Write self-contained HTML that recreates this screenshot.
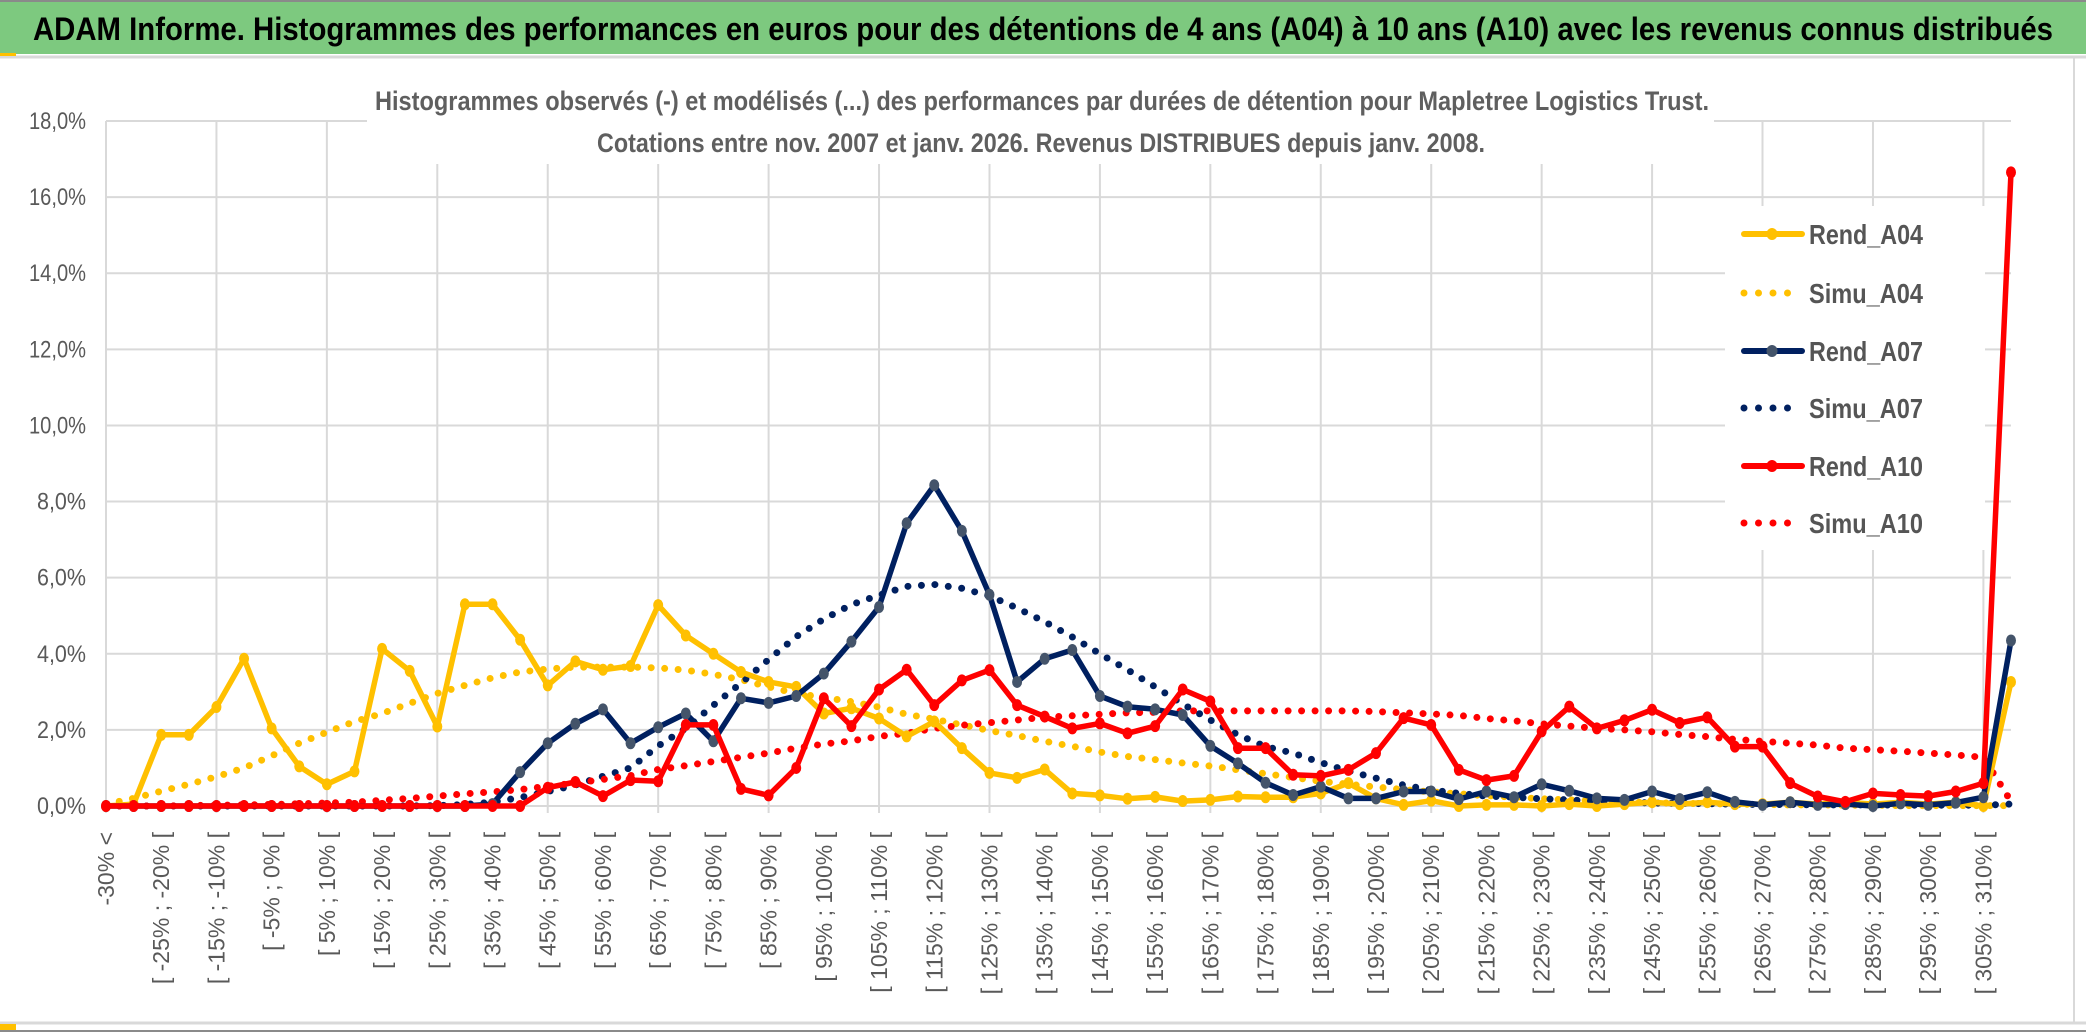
<!DOCTYPE html>
<html><head><meta charset="utf-8"><title>ADAM Informe - Mapletree Logistics Trust</title>
<style>
html,body{margin:0;padding:0;background:#fff;}
svg{display:block;font-family:"Liberation Sans",sans-serif;}
</style></head>
<body>
<svg id="chart" width="2086" height="1033" viewBox="0 0 2086 1033" xmlns="http://www.w3.org/2000/svg">
<rect x="0" y="0" width="2086" height="1033" fill="#fff"/>
<rect x="0" y="2" width="2086" height="52" fill="#7dc97f"/>
<line x1="0" y1="1" x2="2086" y2="1" stroke="#8a8a8a" stroke-width="2"/>
<line x1="0" y1="57" x2="2086" y2="57" stroke="#d9d9d9" stroke-width="3"/>
<rect x="0" y="53" width="16" height="3" fill="#ffc000"/>
<text x="33" y="40" font-size="32" font-weight="bold" fill="#000" textLength="2020" lengthAdjust="spacingAndGlyphs">ADAM Informe. Histogrammes des performances en euros pour des détentions de 4 ans (A04) à 10 ans (A10) avec les revenus connus distribués</text>
<line x1="0" y1="1023" x2="2086" y2="1023" stroke="#d9d9d9" stroke-width="3"/>
<line x1="0" y1="1031" x2="2086" y2="1031" stroke="#8a8a8a" stroke-width="2"/>
<rect x="0" y="1024" width="16" height="6" fill="#ffc000"/>
<line x1="2074" y1="58" x2="2074" y2="1022" stroke="#d9d9d9" stroke-width="2"/>
<g id="grid"></g>
<g id="ylabels"></g>
<g id="xlabels"></g>
<rect x="367" y="84" width="1347" height="80" fill="#fff"/>
<text x="375" y="110" font-size="27" font-weight="bold" fill="#5f5f5f" textLength="1334" lengthAdjust="spacingAndGlyphs">Histogrammes observés (-) et modélisés (...) des performances par durées de détention pour Mapletree Logistics Trust.</text>
<text x="597" y="152" font-size="27" font-weight="bold" fill="#5f5f5f" textLength="888" lengthAdjust="spacingAndGlyphs">Cotations entre nov. 2007 et janv. 2026. Revenus DISTRIBUES depuis janv. 2008.</text>
<g id="series"></g>
<g id="legend"></g>
</svg>
<script>
const categories = (function(){const c=['-30% <'];for(let a=-30;a<310;a+=5){c.push('[ '+a+'% ; '+(a+5)+'% [');}c.push('> 310%');return c;})();
const yTicks = [0,2,4,6,8,10,12,14,16,18];
const yTickLabels = ['0,0%','2,0%','4,0%','6,0%','8,0%','10,0%','12,0%','14,0%','16,0%','18,0%'];
const rendA04 = [0,0.05,1.87,1.87,2.6,3.87,2.04,1.04,0.57,0.91,4.13,3.55,2.09,5.3,5.3,4.37,3.17,3.8,3.58,3.68,5.28,4.48,4.0,3.52,3.26,3.13,2.43,2.57,2.3,1.83,2.22,1.52,0.87,0.74,0.96,0.33,0.28,0.19,0.24,0.13,0.16,0.25,0.23,0.23,0.33,0.6,0.2,0.03,0.14,0,0.03,0.03,0,0.05,0,0.05,0.1,0.05,0.1,0.05,0.05,0.1,0.05,0.1,0.05,0.1,0.05,0.1,0,3.26];
const simuA04 = [0.05,0.2,0.39,0.57,0.77,1.0,1.32,1.65,1.94,2.22,2.43,2.7,2.96,3.17,3.37,3.52,3.6,3.65,3.65,3.65,3.63,3.57,3.46,3.32,3.13,2.96,2.85,2.74,2.6,2.41,2.28,2.13,1.98,1.85,1.7,1.57,1.42,1.3,1.22,1.13,1.05,0.95,0.85,0.75,0.65,0.57,0.5,0.43,0.37,0.32,0.27,0.23,0.19,0.16,0.13,0.11,0.09,0.07,0.06,0.05,0.04,0.03,0.03,0.02,0.02,0.01,0.01,0.01,0.01,0.01];
const rendA07 = [0,0,0,0,0,0,0,0,0,0,0,0,0,0,0.05,0.89,1.65,2.16,2.54,1.65,2.07,2.43,1.7,2.83,2.71,2.89,3.48,4.32,5.23,7.43,8.43,7.23,5.55,3.26,3.87,4.1,2.89,2.61,2.54,2.39,1.58,1.12,0.61,0.29,0.51,0.2,0.2,0.38,0.38,0.18,0.38,0.23,0.57,0.4,0.2,0.16,0.38,0.18,0.36,0.11,0.03,0.1,0.03,0.05,0,0.07,0.03,0.09,0.23,4.35];
const simuA07 = [0,0,0,0,0,0,0,0,0,0,0,0,0.01,0.04,0.1,0.22,0.38,0.55,0.78,1.0,1.58,2.04,2.65,3.23,3.85,4.45,4.91,5.29,5.54,5.77,5.82,5.72,5.52,5.2,4.84,4.44,4.0,3.58,3.13,2.68,2.26,1.87,1.56,1.39,1.14,0.92,0.73,0.55,0.42,0.33,0.26,0.23,0.19,0.16,0.13,0.1,0.08,0.07,0.06,0.05,0.04,0.04,0.03,0.03,0.03,0.02,0.02,0.02,0.02,0.05];
const rendA10 = [0,0,0,0,0,0,0,0,0,0,0,0,0,0,0,0,0.48,0.63,0.26,0.68,0.65,2.13,2.13,0.45,0.28,1.0,2.83,2.1,3.06,3.58,2.65,3.3,3.57,2.65,2.35,2.04,2.17,1.91,2.1,3.06,2.75,1.52,1.52,0.82,0.79,0.95,1.39,2.31,2.13,0.95,0.68,0.79,1.96,2.61,2.04,2.25,2.53,2.18,2.33,1.56,1.56,0.6,0.25,0.11,0.33,0.29,0.26,0.38,0.6,16.65];
const simuA10 = [0,0,0,0.01,0.02,0.03,0.04,0.06,0.08,0.1,0.15,0.2,0.26,0.32,0.37,0.43,0.52,0.6,0.7,0.8,0.96,1.06,1.17,1.28,1.39,1.52,1.63,1.71,1.83,1.91,2.04,2.12,2.19,2.26,2.33,2.37,2.41,2.45,2.46,2.5,2.5,2.5,2.5,2.5,2.5,2.5,2.48,2.45,2.42,2.38,2.3,2.24,2.16,2.1,2.04,2.0,1.95,1.88,1.82,1.75,1.7,1.65,1.6,1.52,1.48,1.44,1.39,1.34,1.28,0.12];

const NS='http://www.w3.org/2000/svg';
const X0=106, X1=2011, Y0=806, YTOP=121, YMAX=18;
function xPos(i){return X0+i*(X1-X0)/(categories.length-1);}
function yPos(v){return Y0-v*(Y0-YTOP)/YMAX;}
function mk(tag,attrs,parent){const e=document.createElementNS(NS,tag);for(const k in attrs)e.setAttribute(k,attrs[k]);parent.appendChild(e);return e;}

const grid=document.getElementById('grid');
yTicks.forEach(function(t){
  const l=mk('line',{x1:X0,x2:X1,y1:yPos(t),y2:yPos(t),stroke:'#d9d9d9','stroke-width':2},grid);
  
  
});
for(let i=0;i<categories.length;i+=4){
  const l=mk('line',{x1:xPos(i),x2:xPos(i),y1:YTOP,y2:Y0+7,stroke:'#d9d9d9','stroke-width':2},grid);
  
  
}
const yl=document.getElementById('ylabels');
yTicks.forEach(function(t,k){
  const w=yTickLabels[k].length>4?57:49;
  const tx=mk('text',{x:86,y:yPos(t)+8,'font-size':24,fill:'#595959','text-anchor':'end',textLength:w,lengthAdjust:'spacingAndGlyphs'},yl);
  tx.textContent=yTickLabels[k];
  
  
});
const xl=document.getElementById('xlabels');
for(let i=0;i<categories.length;i+=2){
  const x=xPos(i)+8, y=832;
  const tx=mk('text',{x:x,y:y,'font-size':23,fill:'#595959','text-anchor':'end',transform:'rotate(-90 '+x+' '+y+')'},xl);
  tx.textContent=categories[i];
  
  
}

const seriesDefs=[
  {name:'Rend_A04',data:rendA04,color:'#ffc000',marker:'#ffc000',dotted:false},
  {name:'Simu_A04',data:simuA04,color:'#ffc000',dotted:true},
  {name:'Rend_A07',data:rendA07,color:'#002060',marker:'#44546a',dotted:false},
  {name:'Simu_A07',data:simuA07,color:'#002060',dotted:true},
  {name:'Rend_A10',data:rendA10,color:'#ff0000',marker:'#ff0000',dotted:false},
  {name:'Simu_A10',data:simuA10,color:'#ff0000',dotted:true}
];
const sg=document.getElementById('series');
const drawOrder=[1,3,5,0,2,4];
drawOrder.forEach(function(si){
  const s=seriesDefs[si];
  const g=mk('g',{},sg);
  
  
  const pts=s.data.map(function(v,i){return xPos(i).toFixed(1)+','+yPos(v).toFixed(1);}).join(' ');
  const attrs={points:pts,fill:'none',stroke:s.color,'stroke-linejoin':'round'};
  if(s.dotted){attrs['stroke-width']=7;attrs['stroke-dasharray']='0 13.5';attrs['stroke-linecap']='round';}
  else{attrs['stroke-width']=5.5;attrs['stroke-linecap']='round';}
  const pl=mk('polyline',attrs,g);
  
  
  if(!s.dotted){
    s.data.forEach(function(v,i){
      const c=mk('ellipse',{cx:xPos(i),cy:yPos(v),rx:5,ry:6,fill:s.marker},g);
      
      
    });
  }
});

const lg=document.getElementById('legend');
const bg=mk('rect',{x:1725,y:206,width:260,height:344,fill:'#fff'},lg);


const rowY=[234,293,351,408,466,523];
seriesDefs.forEach(function(s,k){
  const y=rowY[k];
  const g=mk('g',{},lg);
  
  
  if(s.dotted){
    const l=mk('line',{x1:1744,x2:1802,y1:y,y2:y,stroke:s.color,'stroke-width':7,'stroke-linecap':'round','stroke-dasharray':'0 14.5'},g);
    
    
  } else {
    const l=mk('line',{x1:1744,x2:1802,y1:y,y2:y,stroke:s.color,'stroke-width':6,'stroke-linecap':'round'},g);
    
    
    const c=mk('ellipse',{cx:1772,cy:y,rx:5.5,ry:6,fill:s.marker},g);
    
    
  }
  const t=mk('text',{x:1809,y:y+10,'font-size':28,'font-weight':'bold',fill:'#555555',textLength:114,lengthAdjust:'spacingAndGlyphs'},g);
  t.textContent=s.name;
  
  
});
</script>
</body></html>
